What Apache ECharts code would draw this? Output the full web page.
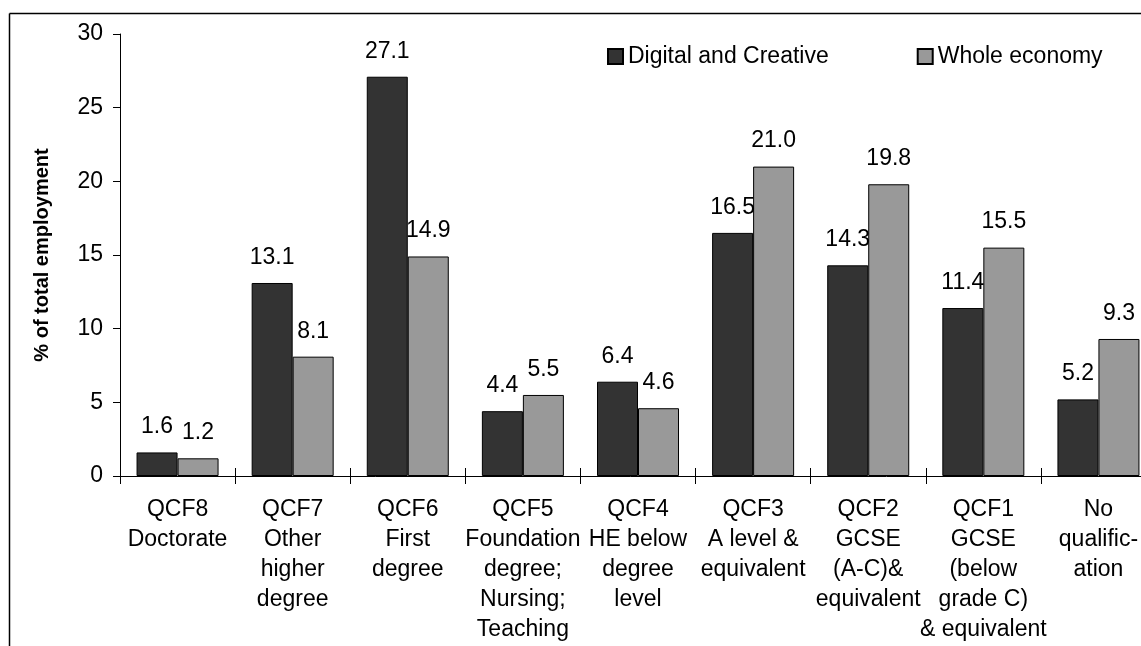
<!DOCTYPE html>
<html>
<head>
<meta charset="utf-8">
<script src="https://cdn.jsdelivr.net/npm/echarts@6/dist/echarts.min.js"></script>
<style>
  html, body { margin: 0; padding: 0; background: #fff; }
  #chart { width: 1141px; height: 646px; }
</style>
</head>
<body>
<div id="chart"></div>
<script>
const categories = [
  'QCF8\nDoctorate',
  'QCF7\nOther\nhigher\ndegree',
  'QCF6\nFirst\ndegree',
  'QCF5\nFoundation\ndegree;\nNursing;\nTeaching',
  'QCF4\nHE below\ndegree\nlevel',
  'QCF3\nA level &\nequivalent',
  'QCF2\nGCSE\n(A-C)&\nequivalent',
  'QCF1\nGCSE\n(below\ngrade C)\n& equivalent',
  'No\nqualific-\nation'
]
const digitalCreative = [1.6, 13.1, 27.1, 4.4, 6.4, 16.5, 14.3, 11.4, 5.2]
const wholeEconomy = [1.2, 8.1, 14.9, 5.5, 4.6, 21.0, 19.8, 15.5, 9.3]

const font = 'Liberation Sans, Arial, sans-serif'
const chart = echarts.init(document.getElementById('chart'))

const barLabel = {
  show: true,
  position: 'top',
  distance: 14,
  color: '#000',
  fontSize: 23,
  fontFamily: font,
  formatter: (p) => p.value.toFixed(1)
}

chart.setOption({
  animation: false,
  backgroundColor: '#fff',
  textStyle: { fontFamily: font },
  graphic: [
    // frame, only left and top edges are visible in the picture
    { type: 'line', shape: { x1: 9.5, y1: 13.5, x2: 9.5, y2: 646 }, style: { stroke: '#000', lineWidth: 1.5 } },
    { type: 'line', shape: { x1: 9.5, y1: 13.5, x2: 1141, y2: 13.5 }, style: { stroke: '#000', lineWidth: 1.5 } }
  ],
  legend: {
    left: 607,
    top: 45,
    padding: 0,
    itemWidth: 15,
    itemHeight: 15,
    itemGap: 88,
    icon: 'rect',
    textStyle: { fontSize: 23, color: '#000', fontFamily: font },
    data: ['Digital and Creative', 'Whole economy']
  },
  grid: {
    left: 120,
    width: 1036,
    top: 34,
    bottom: 170,
    outerBoundsMode: 'none',
    containLabel: false
  },
  xAxis: [{
    type: 'category',
    data: categories,
    axisLine: { lineStyle: { color: '#000', width: 1 } },
    axisTick: { show: true, length: 8, lineStyle: { color: '#000' } },
    axisLabel: {
      interval: 0,
      margin: 19,
      color: '#000',
      fontSize: 23,
      lineHeight: 30,
      fontFamily: font
    }
  }, {
    // second axis only draws the upper half of the crossing ticks
    type: 'category',
    data: categories,
    position: 'bottom',
    axisLine: { show: false },
    axisTick: { show: true, inside: true, length: 8, lineStyle: { color: '#000' } },
    axisLabel: { show: false }
  }],
  yAxis: {
    type: 'value',
    min: 0,
    max: 30,
    interval: 5,
    name: '% of total employment',
    nameLocation: 'middle',
    nameGap: 68,
    nameTextStyle: { fontSize: 20, fontWeight: 'bold', color: '#000', fontFamily: font },
    axisLine: { show: true, lineStyle: { color: '#000', width: 1 } },
    axisTick: { show: true, length: 7, lineStyle: { color: '#000' } },
    axisLabel: { margin: 17, color: '#000', fontSize: 23, fontFamily: font },
    splitLine: { show: false }
  },
  series: [{
    name: 'Digital and Creative',
    type: 'bar',
    barWidth: 41,
    barGap: '0%',
    itemStyle: { color: '#333333', borderColor: '#000', borderWidth: 1 },
    label: barLabel,
    data: digitalCreative
  }, {
    name: 'Whole economy',
    type: 'bar',
    barWidth: 41,
    barGap: '0%',
    itemStyle: { color: '#999999', borderColor: '#000', borderWidth: 1 },
    label: barLabel,
    data: wholeEconomy
  }]
})
</script>
</body>
</html>
